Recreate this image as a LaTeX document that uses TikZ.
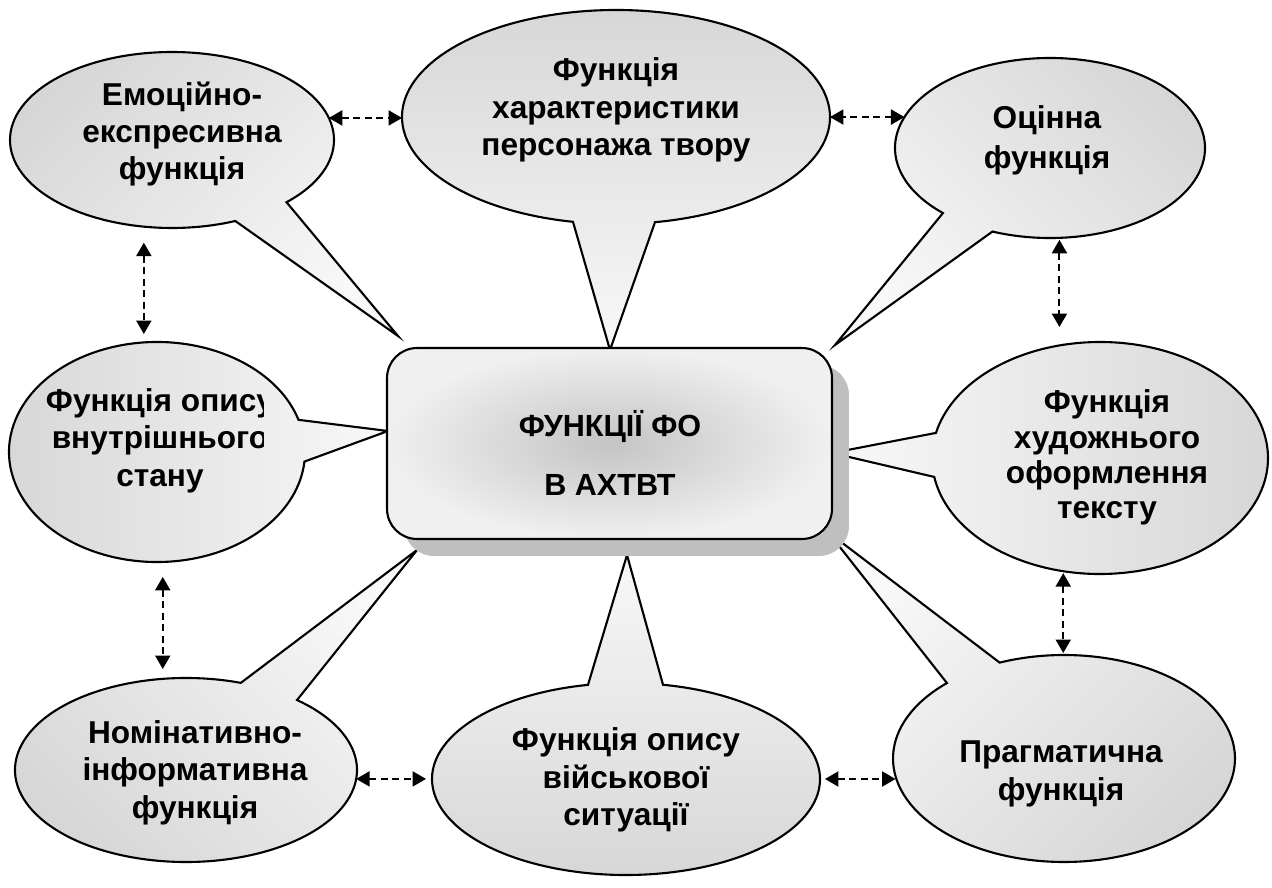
\documentclass[tikz,border=0pt]{standalone}
\usepackage{fontspec}
\setmainfont{Liberation Sans}
\usetikzlibrary{arrows.meta,shapes.geometric,shadows}
\definecolor{cdark}{HTML}{D6D6D6}
\definecolor{clight}{HTML}{F8F8F8}
\definecolor{shadowgray}{HTML}{BFBFBF}
\definecolor{boxin}{HTML}{C4C4C4}
\definecolor{boxout}{HTML}{F0F0F0}
\newcommand\mycallout[8]{%
  \path[callout, shading angle=#8] (#1.center) ++({#2*cos(#4)},{#3*sin(#4)})
    arc[start angle=#4, end angle=#5, x radius=#2, y radius=#3] -- (#6,#7) -- cycle;}
\begin{document}
\begin{tikzpicture}[x=0.02cm,y=0.02cm,
  ell/.style={ellipse, draw=none, inner sep=0pt, outer sep=0pt},
  callout/.style={draw=black, line width=1.2pt, line join=miter, top color=cdark, bottom color=clight},
  txt/.style={align=center, font=\bfseries\fontsize{18}{21.3}\selectfont},
  ctrtxt/.style={align=center, font=\bfseries\fontsize{17.4}{34}\selectfont},
  dar/.style={line width=1.2pt, dash pattern=on 0.14cm off 0.09cm,
    {Triangle[length=0.27cm,width=0.3cm]}-{Triangle[length=0.27cm,width=0.3cm]}},
]
\useasboundingbox (0,0) rectangle (1272,887);
% anchor ellipses
\node[ell, minimum width=6.48cm, minimum height=3.52cm] (emo) at (172,747) {};
\node[ell, minimum width=8.56cm, minimum height=4.28cm] (chr) at (616,770) {};
\node[ell, minimum width=6.2cm, minimum height=3.6cm] (ocin) at (1050,739) {};
\node[ell, minimum width=5.92cm, minimum height=4.4cm] (inr) at (157,435) {};
\node[ell, minimum width=6.72cm, minimum height=4.64cm] (art) at (1100,429) {};
\node[ell, minimum width=6.84cm, minimum height=3.68cm] (nom) at (186,117) {};
\node[ell, minimum width=7.76cm, minimum height=3.84cm] (mil) at (626,108) {};
\node[ell, minimum width=6.84cm, minimum height=4.14cm] (prg) at (1064,128.5) {};
% callouts
\mycallout{emo}{162}{88}{-45}{293}{398}{551}{45}
\mycallout{chr}{214}{107}{-79.5}{258.4}{610}{537}{0}
\mycallout{ocin}{155}{90}{-111.8}{226.3}{835}{542}{-45}
\mycallout{inr}{148}{110}{17}{355}{388}{456}{90}
\mycallout{art}{168}{116}{189.4}{527.5}{832}{434}{-90}
\mycallout{nom}{171}{92}{71.3}{409.5}{417}{337}{135}
\mycallout{mil}{194}{96}{101.3}{439}{627}{332}{180}
\mycallout{prg}{171}{103.5}{133.2}{472.1}{828}{355}{-135}
% central box
\node[draw, line width=1.2pt, rounded corners=0.6cm, minimum width=8.9cm, minimum height=3.82cm,
  inner color=boxin, outer color=boxout,
  drop shadow={shadow xshift=0.34cm, shadow yshift=-0.34cm, fill=shadowgray, opacity=1}] (ctr) at (609.5,443.5) {};
\node[ctrtxt] (ctr-t) at (610,434) {ФУНКЦІЇ ФО\\В АХТВТ};
% texts
\node[txt] (emo-t) at (182,753) {Емоційно-\\експресивна\\функція};
\node[txt] (chr-t) at (616,777) {Функція\\характеристики\\персонажа твору};
\node[txt, font=\bfseries\fontsize{18}{22.8}\selectfont] (ocin-t) at (1047,747) {Оцінна\\функція};
\begin{scope}
\clip (0,0) rectangle (263,887);
\node[txt] (inr-t) at (160,446.5) {Функція опису\\внутрішнього\\стану};
\end{scope}
\node[txt, font=\bfseries\fontsize{18}{20}\selectfont] (art-t) at (1107,429.5) {Функція\\художнього\\оформлення\\тексту};
\node[txt] (nom-t) at (195,114.5) {Номінативно-\\інформативна\\функція};
\node[txt] (mil-t) at (626,107) {Функція опису\\військової\\ситуації};
\node[txt] (prg-t) at (1061,113) {Прагматична\\функція};
% dashed double arrows
\draw[dar] (emo.8) -- (emo.8 -| chr.west);
\draw[dar] (ocin.168) -- (ocin.168 -| chr.east);
\draw[dar, shorten <=0.32cm, shorten >=0.16cm] (emo.252) -- (emo.252 |- inr.north);
\draw[dar, shorten <=0.04cm, shorten >=0.3cm] (ocin.276) -- (ocin.276 |- art.north);
\draw[dar, shorten <=0.3cm, shorten >=0.18cm] (inr.273) -- (inr.273 |- nom.north);
\draw[dar, shorten <=0.04cm, shorten >=0.04cm] (art.252) -- (art.252 |- prg.north);
\draw[dar, shorten >=0.12cm] (nom.357) -- (nom.357 -| mil.west);
\draw[dar, shorten <=0.1cm] (mil.east) -- (mil.east -| prg.186);
\end{tikzpicture}
\end{document}
